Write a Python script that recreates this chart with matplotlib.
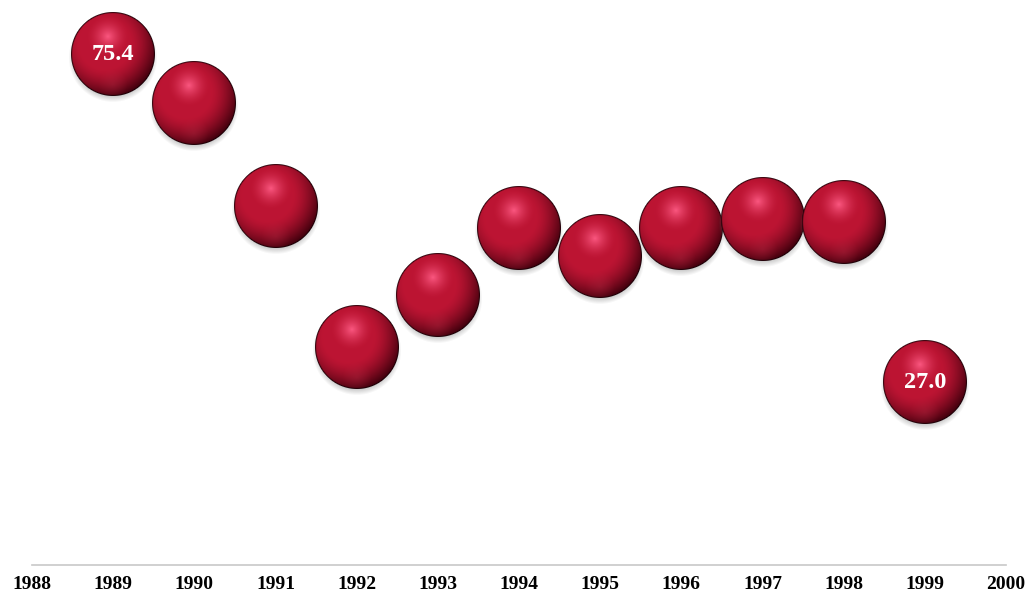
# 气泡图：1989-1999 年度数值（3D 球体样式）
import numpy as np
import matplotlib.pyplot as plt
from matplotlib.offsetbox import OffsetImage, AnnotationBbox

plt.rcParams['font.family'] = ['Liberation Serif', 'DejaVu Serif']

# 数据
years = [1989, 1990, 1991, 1992, 1993, 1994, 1995, 1996, 1997, 1998, 1999]
values = [75.4, 68.2, 53.0, 32.2, 39.8, 49.7, 45.6, 49.7, 51.1, 50.6, 27.0]
tick_years = list(range(1988, 2001))
label_years = [1989, 1999]


def make_sphere(R=42, pad=6):
    # 生成带高光和阴影的球体 RGBA 图像
    S = 2 * (R + pad)
    yy, xx = np.mgrid[0:S, 0:S] + 0.5
    c = S / 2
    dx = (xx - c) / R
    dy = (yy - c) / R
    d = np.sqrt(dx ** 2 + dy ** 2)

    base = np.array([0.74, 0.08, 0.20])
    hi = np.array([0.98, 0.34, 0.50])
    dark = np.array([0.25, 0.0, 0.05])

    dh = np.sqrt((dx + 0.12) ** 2 + (dy + 0.42) ** 2)
    t_hi = np.clip(1 - dh / 0.5, 0, 1) ** 1.6
    dd = np.sqrt((dx + 0.2) ** 2 + (dy + 0.25) ** 2)
    t_dark = np.clip((dd - 0.6) / 0.7, 0, 1) ** 1.5
    # 底部反光
    db = np.sqrt(dx ** 2 + (dy - 0.72) ** 2)
    t_ref = 0.22 * np.clip(1 - db / 0.35, 0, 1)

    rgb = base[None, None, :] * np.ones((S, S, 1))
    rgb = rgb * (1 - t_dark[..., None]) + dark * t_dark[..., None]
    rgb = rgb * (1 - t_hi[..., None]) + hi * t_hi[..., None]
    rgb = rgb * (1 - t_ref[..., None]) + np.array([0.78, 0.22, 0.32]) * t_ref[..., None]
    # 黑色描边
    t_edge = np.clip((d - 0.96) / 0.04, 0, 1)
    rgb = rgb * (1 - t_edge[..., None]) + np.array([0.08, 0.0, 0.02]) * t_edge[..., None]

    a_sph = np.clip((1 - d) * R + 0.5, 0, 1)

    # 投影
    ds = np.sqrt(dx ** 2 + (dy - 0.09) ** 2)
    a_sh = 0.35 * np.clip(1 - (ds - 0.92) / 0.14, 0, 1)

    out = np.zeros((S, S, 4))
    a = a_sph + a_sh * (1 - a_sph)
    out[..., :3] = (rgb * a_sph[..., None] + 0.45 * a_sh[..., None] * (1 - a_sph[..., None])) / np.maximum(a[..., None], 1e-6)
    out[..., 3] = a
    return out


fig = plt.figure(figsize=(10.32, 5.96), dpi=100)
ax = fig.add_axes([32 / 1032, 31 / 596, 974 / 1032, 542 / 596])
ax.set_xlim(1988, 2000)
ax.set_ylim(0, 80)

sphere = make_sphere()
for yr, v in zip(years, values):
    im = OffsetImage(sphere, zoom=1, dpi_cor=False)
    ab = AnnotationBbox(im, (yr, v), frameon=False, pad=0, box_alignment=(0.5, 0.5),
                        annotation_clip=False)
    ax.add_artist(ab)
    if yr in label_years:
        ax.text(yr, v, f"{v:.1f}", color='white', fontsize=17.5, fontweight='bold',
                ha='center', va='center', zorder=10)

ax.set_xticks(tick_years)
ax.set_xticklabels([str(y) for y in tick_years], fontsize=14, fontweight='bold')
ax.tick_params(axis='x', length=0, pad=8)
ax.set_yticks([])
for s in ['top', 'left', 'right']:
    ax.spines[s].set_visible(False)
ax.spines['bottom'].set_color('#c8c8c8')
ax.spines['bottom'].set_linewidth(1.2)

fig.savefig('out.png', dpi=100)
